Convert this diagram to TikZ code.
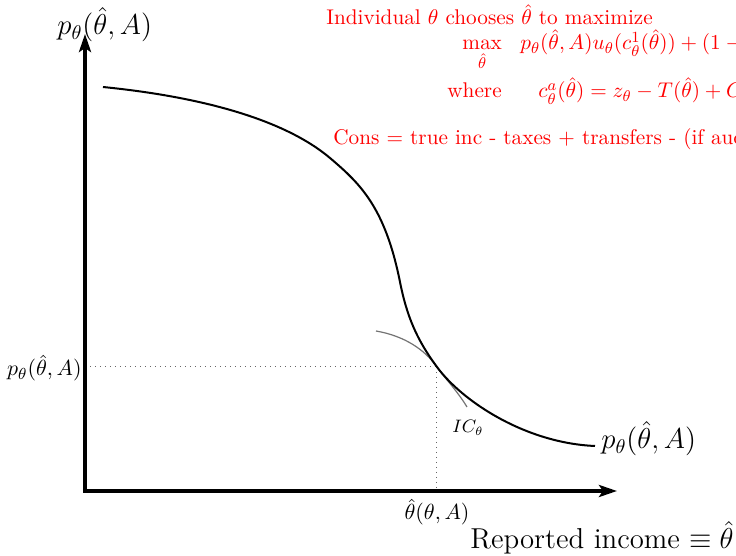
\documentclass[tikz,border=0pt]{standalone}
\usepackage{amsmath}
\usetikzlibrary{arrows.meta}
\newcommand{\redsc}[1]{\scalebox{0.97}{#1}}
\begin{document}
\begin{tikzpicture}[x=0.5pt,y=-0.5pt,
  axisline/.style={line width=2pt,-{Stealth[length=9pt,width=6pt,inset=2pt]}},
  pcurve/.style={line width=1pt,black},
  iccurve/.style={line width=0.6pt,black!55},
  guide/.style={line width=0.5pt,black!60,dotted},
  redtext/.style={text=red,inner sep=0pt,font=\fontsize{10.95}{13}\selectfont},
  smalllab/.style={inner sep=0pt,font=\fontsize{10.95}{13}\selectfont},
  biglab/.style={inner sep=0pt,font=\fontsize{14.4}{17}\selectfont},
  iclab/.style={inner sep=0pt,font=\fontsize{9}{11}\selectfont}]
\useasboundingbox (0,0) rectangle (736,556);
\clip (0,0) rectangle (736,556);
% key points
\coordinate (O) at (85,491);
\coordinate (ytip) at (85,34);
\coordinate (xtip) at (617,491);
\coordinate (T) at (437,367);
% guides
\draw[guide] (O |- T) -- (T);
\draw[guide] (T) -- (T |- O);
% IC curve
\draw[iccurve] (376,331) .. controls (405,336) and (425,350) .. (T)
  .. controls (446,379.5) and (458,392) .. (467,407);
% main curve
\draw[pcurve] (103,87) .. controls (203,97) and (285,120) .. (330,158)
  .. controls (360,183.5) and (385,207) .. (400,282)
  .. controls (407,317) and (417,340) .. (T)
  .. controls (462,401) and (525,443) .. (595,446);
% axes
\draw[axisline] (O) -- (ytip);
\draw[axisline] ([xshift=-1pt]O) -- (xtip);
% labels
\node[biglab,anchor=base west] (ylab) at (57,35) {$p_\theta(\hat\theta,A)$};
\node[biglab,anchor=base west] (clab) at (601,449) {$p_\theta(\hat\theta,A)$};
\node[biglab,anchor=base west] (xlab) at (470,549) {Reported income $\equiv\hat\theta$};
\node[smalllab,anchor=base east] (pstar) at (82,376) {$p_\theta(\hat\theta,A)$};
\node[smalllab,anchor=base] (tstar) at (437,520) {$\hat\theta(\theta,A)$};
\node[iclab,anchor=base] (ic) at (468,433) {$IC_\theta$};
% red text
\node[redtext,anchor=base west] (r1) at (326,25) {\redsc{Individual $\theta$ chooses $\hat\theta$ to maximize}};
\node[redtext,anchor=base west] (r2a) at (462,50) {\redsc{$\displaystyle\max_{\hat\theta}$}};
\node[redtext,anchor=base west] (r2b) at (520,50) {\redsc{$p_\theta(\hat\theta,A)u_\theta(c^1_\theta(\hat\theta))+(1-p_\theta(\hat\theta,A))$}};
\node[redtext,anchor=base west] (r3a) at (447,98) {\redsc{where}};
\node[redtext,anchor=base west] (r3b) at (538,98) {\redsc{$c^a_\theta(\hat\theta)=z_\theta-T(\hat\theta)+C$}};
\node[redtext,anchor=base west] (r4) at (333,145) {\redsc{Cons $=$ true inc - taxes $+$ transfers - (if aud}};
\end{tikzpicture}
\end{document}
